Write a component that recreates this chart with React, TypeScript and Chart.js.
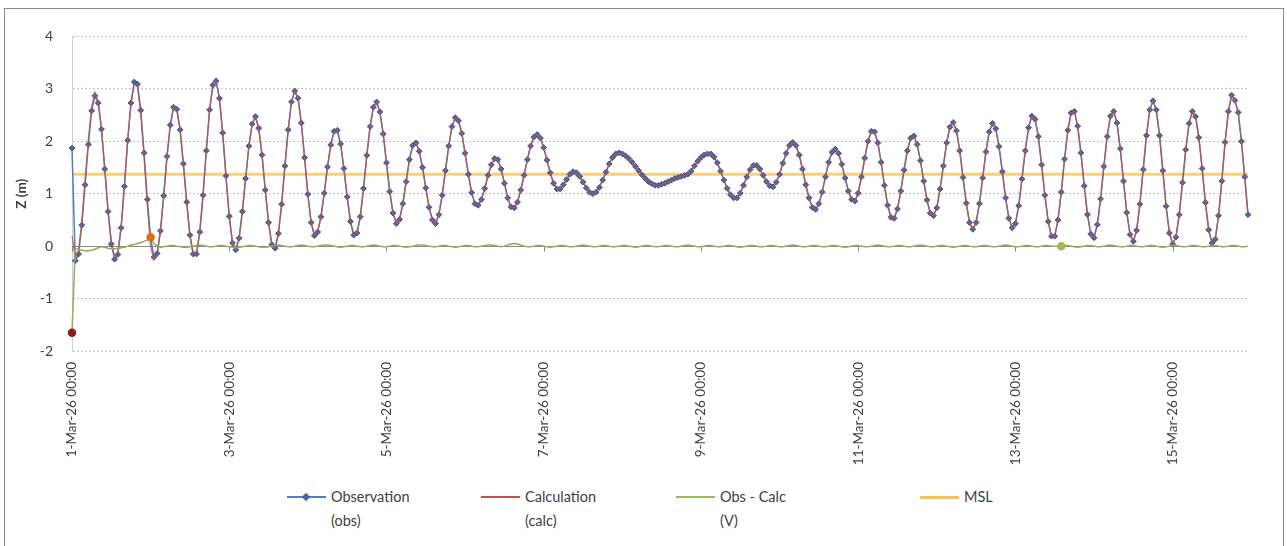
import React, { useEffect, useRef } from 'react';
import { Chart, registerables } from 'chart.js';

Chart.register(...registerables);

// x-axis tick labels (one every 48 hourly samples)
const tickLabels = [
  '1-Mar-26 00:00', '3-Mar-26 00:00', '5-Mar-26 00:00', '7-Mar-26 00:00',
  '9-Mar-26 00:00', '11-Mar-26 00:00', '13-Mar-26 00:00', '15-Mar-26 00:00',
];
const hoursPerTick = 48;

// Observation (obs), hourly water level Z (m)
const observation = [
  1.87, -0.28, -0.15, 0.40, 1.17, 1.94, 2.58, 2.87, 2.73, 2.23,
  1.47, 0.66, 0.04, -0.25, -0.16, 0.35, 1.14, 2.02, 2.73, 3.13,
  3.09, 2.59, 1.78, 0.89, 0.16, -0.21, -0.14, 0.29, 0.96, 1.71,
  2.31, 2.65, 2.61, 2.22, 1.57, 0.84, 0.21, -0.15, -0.15, 0.27,
  0.97, 1.82, 2.60, 3.07, 3.15, 2.82, 2.16, 1.34, 0.57, 0.06,
  -0.07, 0.15, 0.66, 1.29, 1.91, 2.33, 2.47, 2.25, 1.74, 1.07,
  0.45, 0.03, -0.04, 0.24, 0.80, 1.53, 2.22, 2.75, 2.96, 2.82,
  2.35, 1.69, 0.99, 0.45, 0.20, 0.27, 0.56, 1.01, 1.51, 1.93,
  2.19, 2.21, 1.95, 1.48, 0.94, 0.47, 0.21, 0.25, 0.56, 1.10,
  1.73, 2.28, 2.65, 2.75, 2.56, 2.14, 1.59, 1.04, 0.63, 0.43,
  0.51, 0.81, 1.23, 1.65, 1.92, 1.97, 1.81, 1.50, 1.11, 0.74,
  0.50, 0.43, 0.60, 0.97, 1.44, 1.91, 2.28, 2.45, 2.39, 2.15,
  1.77, 1.37, 1.02, 0.81, 0.78, 0.89, 1.10, 1.35, 1.55, 1.67,
  1.65, 1.47, 1.20, 0.92, 0.75, 0.73, 0.84, 1.07, 1.35, 1.65,
  1.91, 2.08, 2.13, 2.06, 1.88, 1.64, 1.40, 1.20, 1.09, 1.09,
  1.17, 1.27, 1.37, 1.42, 1.40, 1.33, 1.22, 1.11, 1.03, 1.00,
  1.03, 1.12, 1.26, 1.41, 1.57, 1.69, 1.76, 1.78, 1.76, 1.72,
  1.67, 1.60, 1.52, 1.44, 1.36, 1.29, 1.23, 1.19, 1.16, 1.16,
  1.18, 1.20, 1.23, 1.26, 1.29, 1.31, 1.33, 1.35, 1.37, 1.43,
  1.53, 1.62, 1.69, 1.74, 1.76, 1.76, 1.70, 1.59, 1.43, 1.26,
  1.10, 0.98, 0.92, 0.92, 1.01, 1.16, 1.32, 1.46, 1.54, 1.54,
  1.47, 1.35, 1.23, 1.15, 1.13, 1.22, 1.37, 1.58, 1.77, 1.92,
  1.98, 1.92, 1.74, 1.47, 1.17, 0.92, 0.74, 0.70, 0.81, 1.03,
  1.32, 1.60, 1.79, 1.85, 1.77, 1.56, 1.30, 1.05, 0.89, 0.86,
  1.01, 1.32, 1.68, 2.00, 2.19, 2.18, 1.97, 1.60, 1.16, 0.78,
  0.55, 0.53, 0.71, 1.05, 1.45, 1.82, 2.06, 2.10, 1.94, 1.63,
  1.24, 0.88, 0.63, 0.58, 0.73, 1.09, 1.53, 1.97, 2.27, 2.36,
  2.20, 1.82, 1.31, 0.82, 0.45, 0.32, 0.45, 0.81, 1.30, 1.80,
  2.18, 2.34, 2.24, 1.90, 1.42, 0.92, 0.53, 0.35, 0.43, 0.77,
  1.28, 1.82, 2.26, 2.48, 2.42, 2.09, 1.55, 0.97, 0.47, 0.19,
  0.19, 0.50, 1.03, 1.66, 2.21, 2.54, 2.57, 2.29, 1.78, 1.15,
  0.60, 0.23, 0.16, 0.41, 0.90, 1.52, 2.09, 2.48, 2.57, 2.35,
  1.86, 1.24, 0.64, 0.22, 0.09, 0.30, 0.80, 1.46, 2.11, 2.60,
  2.77, 2.60, 2.11, 1.44, 0.76, 0.25, 0.04, 0.17, 0.60, 1.21,
  1.84, 2.34, 2.57, 2.47, 2.07, 1.48, 0.83, 0.31, 0.06, 0.13,
  0.58, 1.24, 1.98, 2.57, 2.88, 2.78, 2.55, 2.00, 1.32, 0.60,
];

// Calculation (calc)
const calculation = [
  0.20, -0.23, -0.09, 0.48, 1.26, 2.03, 2.66, 2.93, 2.76, 2.24,
  1.49, 0.70, 0.09, -0.20, -0.12, 0.38, 1.16, 2.02, 2.71, 3.10,
  3.04, 2.52, 1.69, 0.77, -0.01, -0.26, -0.14, 0.29, 0.96, 1.71,
  2.31, 2.65, 2.61, 2.22, 1.57, 0.84, 0.21, -0.15, -0.15, 0.27,
  0.97, 1.82, 2.60, 3.07, 3.15, 2.82, 2.16, 1.34, 0.57, 0.06,
  -0.07, 0.15, 0.66, 1.29, 1.91, 2.33, 2.47, 2.25, 1.74, 1.07,
  0.45, 0.03, -0.04, 0.24, 0.80, 1.53, 2.22, 2.75, 2.96, 2.82,
  2.35, 1.69, 0.99, 0.45, 0.20, 0.27, 0.56, 1.01, 1.51, 1.93,
  2.19, 2.21, 1.95, 1.48, 0.94, 0.47, 0.21, 0.25, 0.56, 1.10,
  1.73, 2.28, 2.65, 2.75, 2.56, 2.14, 1.59, 1.04, 0.63, 0.43,
  0.51, 0.81, 1.23, 1.65, 1.92, 1.97, 1.81, 1.50, 1.11, 0.74,
  0.50, 0.43, 0.60, 0.97, 1.44, 1.91, 2.28, 2.45, 2.39, 2.15,
  1.77, 1.37, 1.02, 0.81, 0.78, 0.89, 1.10, 1.35, 1.55, 1.67,
  1.65, 1.47, 1.20, 0.92, 0.75, 0.73, 0.84, 1.07, 1.35, 1.65,
  1.91, 2.08, 2.13, 2.06, 1.88, 1.64, 1.40, 1.20, 1.09, 1.09,
  1.17, 1.27, 1.37, 1.42, 1.40, 1.33, 1.22, 1.11, 1.03, 1.00,
  1.03, 1.12, 1.26, 1.41, 1.57, 1.69, 1.76, 1.78, 1.76, 1.72,
  1.67, 1.60, 1.52, 1.44, 1.36, 1.29, 1.23, 1.19, 1.16, 1.16,
  1.18, 1.20, 1.23, 1.26, 1.29, 1.31, 1.33, 1.35, 1.37, 1.43,
  1.53, 1.62, 1.69, 1.74, 1.76, 1.76, 1.70, 1.59, 1.43, 1.26,
  1.10, 0.98, 0.92, 0.92, 1.01, 1.16, 1.32, 1.46, 1.54, 1.54,
  1.47, 1.35, 1.23, 1.15, 1.13, 1.22, 1.37, 1.58, 1.77, 1.92,
  1.98, 1.92, 1.74, 1.47, 1.17, 0.92, 0.74, 0.70, 0.81, 1.03,
  1.32, 1.60, 1.79, 1.85, 1.77, 1.56, 1.30, 1.05, 0.89, 0.86,
  1.01, 1.32, 1.68, 2.00, 2.19, 2.18, 1.97, 1.60, 1.16, 0.78,
  0.55, 0.53, 0.71, 1.05, 1.45, 1.82, 2.06, 2.10, 1.94, 1.63,
  1.24, 0.88, 0.63, 0.58, 0.73, 1.09, 1.53, 1.97, 2.27, 2.36,
  2.20, 1.82, 1.31, 0.82, 0.45, 0.32, 0.45, 0.81, 1.30, 1.80,
  2.18, 2.34, 2.24, 1.90, 1.42, 0.92, 0.53, 0.35, 0.43, 0.77,
  1.28, 1.82, 2.26, 2.48, 2.42, 2.09, 1.55, 0.97, 0.47, 0.19,
  0.19, 0.50, 1.03, 1.66, 2.21, 2.54, 2.57, 2.29, 1.78, 1.15,
  0.60, 0.23, 0.16, 0.41, 0.90, 1.52, 2.09, 2.48, 2.57, 2.35,
  1.86, 1.24, 0.64, 0.22, 0.09, 0.30, 0.80, 1.46, 2.11, 2.60,
  2.77, 2.60, 2.11, 1.44, 0.76, 0.25, 0.04, 0.17, 0.60, 1.21,
  1.84, 2.34, 2.57, 2.47, 2.07, 1.48, 0.83, 0.31, 0.06, 0.13,
  0.58, 1.24, 1.98, 2.57, 2.88, 2.78, 2.55, 2.00, 1.32, 0.60,
];

// Obs - Calc (V)
const residual = [
  -1.65, -0.05, -0.06, -0.08, -0.09, -0.09, -0.08, -0.06, -0.03, -0.01,
  -0.02, -0.04, -0.05, -0.05, -0.04, -0.03, -0.02, 0, 0.02, 0.03,
  0.05, 0.07, 0.09, 0.12, 0.17, 0.05, 0,
  -0.02, -0.01, 0, 0.01, 0.01, 0, -0.01, -0.02, -0.02, -0.01,
  0, 0.01, 0.02, 0.01, 0, -0.01, -0.01, 0, 0.01, 0.01,
  0, -0.01, -0.02, -0.03, -0.02, -0.01, 0, 0.01, 0.01, 0,
  -0.01, -0.02, -0.02, -0.01, 0, 0.01, 0.02, 0.01, 0, -0.01,
  -0.01, 0, 0.01, 0.02, 0.01, 0, -0.01, -0.01, 0, 0.01,
  0.02, 0.02, 0.01, 0, -0.01, -0.02, -0.01, 0, 0.01, 0.01,
  0, -0.01, -0.01, 0, 0.01, 0.02, 0.01, 0, -0.01, -0.01,
  0, 0.01, 0.01, 0, -0.01, -0.02, -0.01, 0, 0.01, 0.02,
  0.02, 0.01, 0, -0.01, -0.01, 0, 0.01, 0.01, 0, -0.01,
  -0.02, -0.01, 0, 0.01, 0.01, 0, -0.01, -0.01, 0, 0.01,
  0.02, 0.02, 0.01, 0, -0.01, 0, 0.02, 0.04, 0.05, 0.04,
  0.02, 0, -0.01, -0.01, 0, 0.01, 0.01, 0, -0.01, -0.02,
  -0.01, 0, 0.01, 0.01, 0, -0.01, -0.01, 0, 0.01, 0.02,
  0.01, 0, -0.01, -0.01, 0, 0.01, 0.01, 0, -0.01, -0.01,
  0, 0.01, 0.01, 0, -0.01, -0.02, -0.01, 0, 0.01, 0.01,
  0, -0.01, -0.01, 0, 0.01, 0.01, 0, -0.01, -0.01, 0,
  0.01, 0.02, 0.01, 0, -0.01, -0.01, 0, 0.01, 0.01, 0,
  -0.01, -0.01, 0, 0.01, 0.01, 0, -0.01, -0.02, -0.01, 0,
  0.01, 0.01, 0, -0.01, -0.01, 0, 0.01, 0.01, 0, -0.01,
  -0.01, 0, 0.01, 0.02, 0.01, 0, -0.01, -0.01, 0, 0.01,
  0.01, 0, -0.01, -0.01, 0, 0.01, 0.01, 0, -0.01, -0.02,
  -0.01, 0, 0.01, 0.01, 0, -0.01, -0.01, 0, 0.01, 0.02,
  0.01, 0, -0.01, -0.01, 0, 0.01, 0.01, 0, -0.01, -0.01,
  0, 0.01, 0.02, 0.01, 0, -0.01, -0.01, 0, 0.01, 0.01,
  0, -0.01, -0.02, -0.01, 0, 0.01, 0.01, 0, -0.01, -0.01,
  0, 0.01, 0.01, 0, -0.01, -0.01, 0, 0.01, 0.02, 0.01,
  0, -0.01, -0.01, 0, 0.01, 0.01, 0, -0.01, -0.01, 0,
  0.01, 0.01, 0, 0, 0, 0, 0.01, 0.01, 0, -0.01,
  -0.02, -0.01, 0, 0.01, 0.01, 0, -0.01, -0.01, 0, 0.01,
  0.02, 0.01, 0, -0.01, -0.01, 0, 0.01, 0.01, 0, -0.01,
  -0.01, 0, 0.01, 0.01, 0, -0.01, -0.02, -0.01, 0, 0.01,
  0.01, 0, -0.01, -0.01, 0, 0.01, 0.01, 0, -0.01, -0.01,
  0, 0.01, 0.01, 0, -0.01, -0.01, 0, 0.01, 0.01, 0,
  -0.01, -0.01, 0,
];

// Mean sea level (m)
const mslLevel = 1.37;

// highlighted residual points: [index, colour]
const residualHighlights: [number, string][] = [
  [0, '#8E1C1C'],
  [24, '#E46C0A'],
  [302, '#9BBB59'],
];

const FONT = 'Lato, "Open Sans", "Liberation Sans", sans-serif';
const TEXT = '#404040';

const legendItems = [
  { lines: ['Observation', '(obs)'], color: '#4F81BD', marker: true, x: 287, w: 2 },
  { lines: ['Calculation', '(calc)'], color: '#C0504D', marker: false, x: 481, w: 2 },
  { lines: ['Obs - Calc', '(V)'], color: '#9BBB59', marker: false, x: 676, w: 2 },
  { lines: ['MSL'], color: '#F6C453', marker: false, x: 920, w: 3 },
];

export default function App() {
  const canvasRef = useRef<HTMLCanvasElement | null>(null);

  useEffect(() => {
    const canvas = canvasRef.current;
    if (!canvas) return;
    const n = observation.length;
    const categories = observation.map((_, i) => i);
    const mslSeries = observation.map(() => mslLevel);
    const hiIdx = residualHighlights.map((h) => h[0]);
    const hiColor = (i: number) => {
      const k = hiIdx.indexOf(i);
      return k >= 0 ? residualHighlights[k][1] : '#9BBB59';
    };

    const zeroAxis = {
      id: 'zeroAxis',
      beforeDatasetsDraw(chart: any) {
        const { ctx, chartArea, scales } = chart;
        const y0 = Math.round(scales.y.getPixelForValue(0)) + 0.5;
        ctx.save();
        ctx.strokeStyle = '#8a8a8a';
        ctx.lineWidth = 1;
        ctx.beginPath();
        ctx.moveTo(chartArea.left, y0);
        ctx.lineTo(chartArea.right, y0);
        for (let i = 0; i < n; i += hoursPerTick) {
          const x = Math.round(scales.x.getPixelForValue(i)) + 0.5;
          ctx.moveTo(x, y0);
          ctx.lineTo(x, y0 + 5);
        }
        ctx.stroke();
        ctx.restore();
      },
    };

    const chart = new Chart(canvas, {
      type: 'line',
      data: {
        labels: categories,
        datasets: [
          {
            label: 'MSL',
            data: mslSeries,
            borderColor: 'rgba(246, 188, 60, 0.7)',
            borderWidth: 3,
            pointRadius: 0,
            order: 5,
          },
          {
            label: 'Observation (obs)',
            data: observation,
            borderColor: '#4F81BD',
            borderWidth: 1.5,
            pointStyle: 'rectRot',
            pointRadius: 2.9,
            pointBackgroundColor: '#4a67a3',
            pointBorderColor: '#3d5890',
            pointBorderWidth: 1,
            order: 4,
          },
          {
            label: 'Calculation (calc)',
            data: calculation,
            borderColor: 'rgba(192, 80, 77, 0.85)',
            borderWidth: 1.3,
            pointRadius: 0,
            order: 3,
          },
          {
            label: 'Obs - Calc (V)',
            data: residual,
            borderColor: '#8FAE55',
            borderWidth: 1.5,
            pointRadius: (ctx: any) => (hiIdx.indexOf(ctx.dataIndex) >= 0 ? 3.5 : 0),
            pointBackgroundColor: (ctx: any) => hiColor(ctx.dataIndex),
            pointBorderColor: (ctx: any) => hiColor(ctx.dataIndex),
            order: 2,
          },
        ],
      },
      options: {
        animation: false,
        responsive: false,
        devicePixelRatio: 1,
        events: [],
        layout: { padding: { left: 0, top: 24, right: 33, bottom: 0 } },
        plugins: {
          legend: { display: false },
          tooltip: { enabled: false },
        },
        elements: { line: { tension: 0 } },
        scales: {
          x: {
            type: 'category',
            offset: false,
            grid: { display: false, drawTicks: false },
            border: { display: false },
            ticks: {
              autoSkip: false,
              minRotation: 90,
              maxRotation: 90,
              padding: 11,
              color: TEXT,
              font: { family: FONT, size: 13.5 },
              callback: (_v: any, index: number) =>
                index % hoursPerTick === 0 ? tickLabels[index / hoursPerTick] : null,
            },
            afterFit: (s: any) => {
              s.height = 128;
            },
          },
          y: {
            min: -2,
            max: 4,
            ticks: {
              stepSize: 1,
              padding: 19,
              color: TEXT,
              font: { family: FONT, size: 14 },
            },
            grid: { color: '#c4c4c4', drawTicks: false },
            border: { display: true, color: '#c9cfdc', dash: [2, 2] },
            title: {
              display: true,
              text: 'Z (m)',
              color: TEXT,
              font: { family: FONT, size: 13.5, weight: 'bold' },
              padding: { top: 9, bottom: 0 },
            },
            afterFit: (s: any) => {
              s.width = 67;
            },
          },
        },
      },
      plugins: [zeroAxis],
    });

    return () => chart.destroy();
  }, []);

  return (
    <div style={{ position: 'absolute', left: 0, top: 0, width: 1287, height: 546, background: '#fff', overflow: 'hidden', fontFamily: FONT }}>
      <div
        style={{
          position: 'absolute',
          left: 4,
          top: 8,
          width: 1280,
          height: 560,
          border: '1px solid #8a8a8a',
          boxSizing: 'border-box',
        }}
      />
      <canvas
        ref={canvasRef}
        width={1276}
        height={470}
        style={{ position: 'absolute', left: 5, top: 9, width: 1276, height: 470 }}
      />
      {legendItems.map((it) => (
        <React.Fragment key={it.lines[0]}>
          <div
            style={{
              position: 'absolute',
              left: it.x,
              top: 497 - it.w / 2,
              width: 39,
              height: it.w,
              background: it.color,
            }}
          />
          {it.marker ? (
            <div
              style={{
                position: 'absolute',
                left: it.x + 16,
                top: 494,
                width: 6,
                height: 6,
                background: '#4a67a3',
                transform: 'rotate(45deg)',
              }}
            />
          ) : null}
          <div
            style={{
              position: 'absolute',
              left: it.x + 44,
              top: 485,
              color: TEXT,
              fontSize: 14.5,
              lineHeight: '24px',
              whiteSpace: 'nowrap',
            }}
          >
            {it.lines.map((l) => (
              <div key={l}>{l}</div>
            ))}
          </div>
        </React.Fragment>
      ))}
    </div>
  );
}
